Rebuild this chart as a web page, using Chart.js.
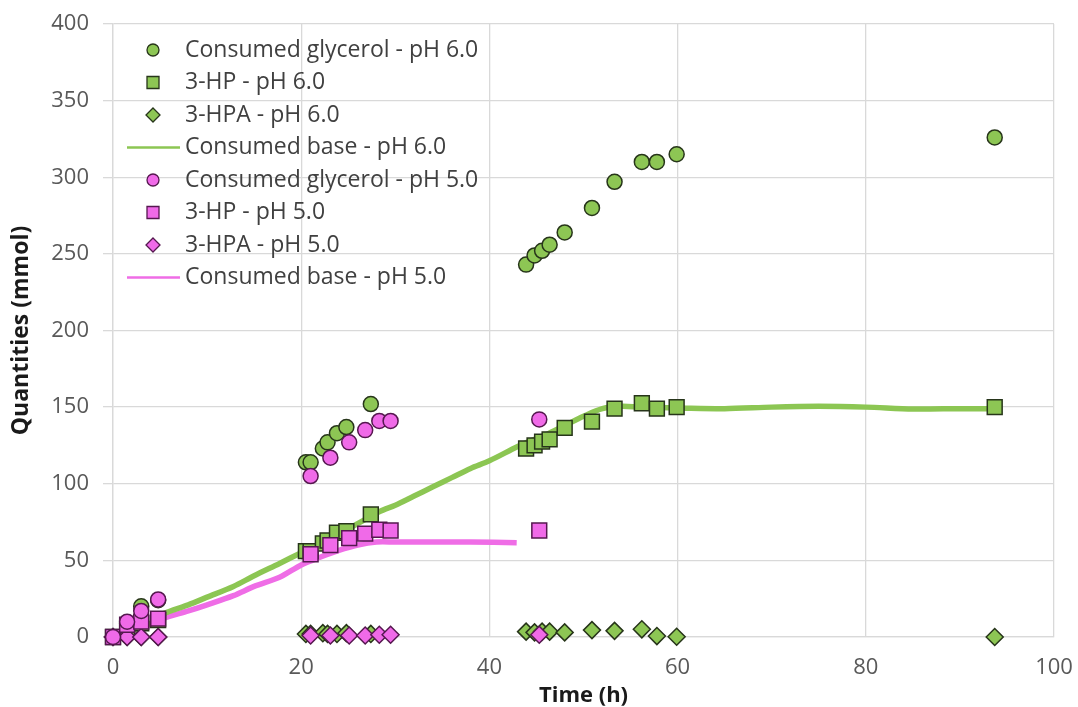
<!DOCTYPE html>
<html>
<head>
<meta charset="utf-8">
<script src="https://cdn.jsdelivr.net/npm/chart.js"></script>
<style>
  html, body { margin: 0; padding: 0; background: #fff; }
  #chart { display: block; }
</style>
</head>
<body>
<canvas id="chart" width="1078" height="707"></canvas>
<script>
// ---------------- DATA ----------------

// Samples pH 6.0
const timePH6     = [0, 1.5, 3, 4.8, 20.5, 21, 22.3, 22.8, 23.8, 24.8, 27.4, 43.9, 44.8, 45.6, 46.4, 48, 50.9, 53.3, 56.2, 57.8, 59.9, 93.7];
const glycerolPH6 = [0, 9, 20, 24, 114, 114, 123, 127, 133, 137, 152, 243, 249, 252, 256, 264, 280, 297, 310, 310, 315, 326];
const hpPH6       = [0, 6, 9, 11, 56, 56, 61, 63, 68, 69, 80, 123, 125, 127.5, 129, 136.5, 140.5, 149, 152.5, 149, 150, 150];
const hpaPH6      = [0, 0, 0, 0, 2, 2, 2.5, 2, 2, 2.5, 2, 3.5, 3, 3.5, 3.5, 3, 4.5, 4, 5, 0.6, 0.2, 0];

// Samples pH 5.0
const timePH5     = [0, 1.5, 3, 4.8, 21, 23.1, 25.1, 26.8, 28.3, 29.5, 45.3];
const glycerolPH5 = [0, 10, 17, 24.5, 105, 117, 127, 135, 141, 141, 142];
const hpPH5       = [0, 8, 10, 12, 54, 60, 64.5, 67.5, 70, 69.5, 69.5];
const hpaPH5      = [0, 0, 0, 0, 1, 1, 1, 1, 1.5, 1.5, 1.5];

// Consumed base (online)
const baseTimePH6 = [0, 2, 4, 5.3, 8, 10, 12.8, 15, 17.7, 20, 22, 24, 26, 28.4, 30, 32, 34, 36, 38, 40, 42.9, 44, 46, 48, 50, 52, 54, 56, 60, 65, 70, 75, 80, 85, 90, 94];
const basePH6     = [0, 4, 9, 15, 21, 26, 33, 40, 48, 55, 61, 67, 74, 82, 86, 92, 98, 104, 110, 115, 124, 127, 132, 138, 144, 149, 150.5, 150, 149.5, 149, 150, 150.5, 150, 148.8, 149, 149];
const baseTimePH5 = [0, 2, 4, 5.3, 8, 10, 12.8, 15, 17.7, 20, 22, 24, 26, 28, 30, 34, 38, 42.9];
const basePH5     = [0, 3, 8, 12, 17, 21, 27, 33, 39, 47, 52, 56.5, 60, 62, 62, 62, 62, 61.5];

// Axes
const xTicks = [0, 20, 40, 60, 80, 100];
const yTicks = [0, 50, 100, 150, 200, 250, 300, 350, 400];

// ---------------- STYLE ----------------
const GREEN = '#8dc654';
const GREEN_EDGE = '#27351a';
const PINK = '#f06ae8';
const PINK_EDGE = '#55184f';
const GRID = '#d9d9d9';
const FONT = '"Open Sans", Lato, sans-serif';

const pairs = (xs, ys) => xs.map((x, i) => ({ x: x, y: ys[i] }));

function markers(label, xs, ys, style, fill, edge, order) {
    return {
        label: label,
        data: pairs(xs, ys),
        pointStyle: style,
        pointRadius: style === 'rect' ? 10.5 : (style === 'rectRot' ? 8.5 : 7.5),
        pointBackgroundColor: fill,
        pointBorderColor: edge,
        pointBorderWidth: 1.5,
        showLine: false,
        clip: false,
        order: order
    };
}

function baseLine(label, xs, ys, color, order) {
    return {
        label: label,
        data: pairs(xs, ys),
        showLine: true,
        borderColor: color,
        borderWidth: 5.5,
        pointRadius: 0,
        tension: 0.3,
        clip: false,
        order: order
    };
}

// Legend drawn inside the plot, top left
const innerLegend = {
    id: 'innerLegend',
    afterDraw(chart) {
        const ctx = chart.ctx;
        ctx.save();
        ctx.font = '23px ' + FONT;
        ctx.textBaseline = 'middle';
        chart.data.datasets.forEach((ds, i) => {
            const y = 50 + i * 32.5;
            const x = 153;
            if (ds.showLine) {
                ctx.strokeStyle = ds.borderColor;
                ctx.lineWidth = 2.5;
                ctx.beginPath();
                ctx.moveTo(127, y);
                ctx.lineTo(180, y);
                ctx.stroke();
            } else {
                ctx.fillStyle = ds.pointBackgroundColor;
                ctx.strokeStyle = ds.pointBorderColor;
                ctx.lineWidth = 1.3;
                ctx.beginPath();
                if (ds.pointStyle === 'circle') {
                    ctx.arc(x, y, 6, 0, Math.PI * 2);
                } else if (ds.pointStyle === 'rect') {
                    ctx.rect(x - 6, y - 6, 12, 12);
                } else {
                    ctx.moveTo(x, y - 7);
                    ctx.lineTo(x + 7, y);
                    ctx.lineTo(x, y + 7);
                    ctx.lineTo(x - 7, y);
                    ctx.closePath();
                }
                ctx.fill();
                ctx.stroke();
            }
            ctx.fillStyle = '#404040';
            ctx.fillText(ds.label, 185, y);
        });
        ctx.restore();
    }
};

// ---------------- CHART ----------------
new Chart(document.getElementById('chart'), {
    type: 'scatter',
    data: {
        datasets: [
            markers('Consumed glycerol - pH 6.0', timePH6, glycerolPH6, 'circle', GREEN, GREEN_EDGE, 2),
            markers('3-HP - pH 6.0', timePH6, hpPH6, 'rect', GREEN, GREEN_EDGE, 2),
            markers('3-HPA - pH 6.0', timePH6, hpaPH6, 'rectRot', GREEN, GREEN_EDGE, 2),
            baseLine('Consumed base - pH 6.0', baseTimePH6, basePH6, '#8cc653', 3),
            markers('Consumed glycerol - pH 5.0', timePH5, glycerolPH5, 'circle', PINK, PINK_EDGE, 1),
            markers('3-HP - pH 5.0', timePH5, hpPH5, 'rect', PINK, PINK_EDGE, 1),
            markers('3-HPA - pH 5.0', timePH5, hpaPH5, 'rectRot', PINK, PINK_EDGE, 1),
            baseLine('Consumed base - pH 5.0', baseTimePH5, basePH5, '#ef6de6', 3)
        ]
    },
    options: {
        responsive: false,
        animation: false,
        layout: { padding: { top: 24, right: 24, left: 0, bottom: 0 } },
        plugins: {
            legend: { display: false },
            tooltip: { enabled: false }
        },
        scales: {
            x: {
                type: 'linear',
                min: xTicks[0],
                max: xTicks[xTicks.length - 1],
                afterBuildTicks: (scale) => { scale.ticks = xTicks.map(v => ({ value: v })); },
                afterFit: (scale) => {
                    scale.height = 70;
                    scale.paddingLeft = 0;
                    scale.paddingRight = 0;
                },
                grid: { color: GRID, drawTicks: false, lineWidth: 1.3 },
                border: { color: GRID, width: 1.3 },
                ticks: { color: '#595959', font: { family: FONT, size: 22 }, padding: 18, maxRotation: 0 },
                title: {
                    display: true,
                    text: 'Time (h)',
                    color: '#1a1a1a',
                    font: { family: FONT, size: 22, weight: 'bold', lineHeight: 1.0 },
                    padding: { top: 0, bottom: 0 }
                }
            },
            y: {
                type: 'linear',
                min: yTicks[0],
                max: yTicks[yTicks.length - 1],
                afterBuildTicks: (scale) => { scale.ticks = yTicks.map(v => ({ value: v })); },
                afterFit: (scale) => {
                    scale.width = 113;
                    scale.paddingTop = 0;
                    scale.paddingBottom = 0;
                },
                grid: { color: GRID, tickLength: 10, lineWidth: 1.3 },
                border: { color: GRID, width: 1.3 },
                ticks: { color: '#595959', font: { family: FONT, size: 22 }, padding: 14 },
                title: {
                    display: true,
                    text: 'Quantities (mmol)',
                    color: '#1a1a1a',
                    font: { family: FONT, size: 23, weight: 'bold' },
                    padding: { top: 8, bottom: 0 }
                }
            }
        }
    },
    plugins: [innerLegend]
});
</script>
</body>
</html>
